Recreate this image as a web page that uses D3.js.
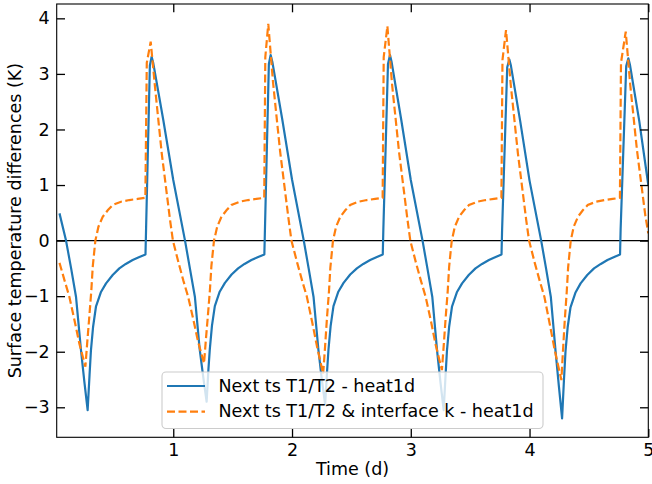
<!DOCTYPE html>
<html>
<head>
<meta charset="utf-8">
<script src="https://cdn.jsdelivr.net/npm/d3@7"></script>
<style>
  body { margin: 0; background: #fff; }
  text { font-family: "DejaVu Sans", sans-serif; }
</style>
</head>
<body>
<script>
//Data (time in days, difference in K)
const xTicks = [1, 2, 3, 4, 5];
const yTicks = [-3, -2, -1, 0, 1, 2, 3, 4];
const seriesNames = ["Next ts T1/T2 - heat1d", "Next ts T1/T2 & interface k - heat1d"];

const nextTs = [
  [0.042,0.49],[0.097,0.0],[0.140,-0.50],[0.181,-1.01],[0.223,-1.97],[0.252,-2.55],[0.279,-3.05],[0.295,-2.42],[0.307,-1.97],[0.325,-1.55],[0.349,-1.19],[0.390,-0.93],[0.434,-0.77],[0.490,-0.62],[0.546,-0.50],[0.600,-0.42],[0.658,-0.35],[0.710,-0.30],[0.766,-0.25],[0.771,0.20],[0.803,3.15],[0.818,3.31],[0.832,3.19],[0.916,2.17],[1.000,1.09],
  [1.099,0.0],[1.140,-0.50],[1.182,-1.01],[1.222,-1.95],[1.252,-2.45],[1.281,-2.90],[1.296,-2.32],[1.308,-1.95],[1.326,-1.53],[1.350,-1.18],[1.391,-0.92],[1.435,-0.76],[1.491,-0.61],[1.546,-0.50],[1.600,-0.42],[1.658,-0.35],[1.710,-0.30],[1.767,-0.25],[1.772,0.20],[1.805,3.18],[1.820,3.34],[1.834,3.22],[1.918,2.18],[2.000,1.10],
  [2.099,0.0],[2.140,-0.50],[2.181,-1.01],[2.222,-1.96],[2.251,-2.50],[2.279,-2.95],[2.295,-2.36],[2.307,-1.96],[2.325,-1.54],[2.349,-1.18],[2.390,-0.92],[2.434,-0.76],[2.490,-0.61],[2.546,-0.50],[2.600,-0.42],[2.658,-0.35],[2.710,-0.30],[2.764,-0.25],[2.769,0.20],[2.808,3.18],[2.825,3.34],[2.838,3.22],[2.920,2.17],[3.000,1.09],
  [3.099,0.0],[3.140,-0.50],[3.181,-1.01],[3.221,-1.97],[3.250,-2.55],[3.277,-3.05],[3.293,-2.42],[3.305,-1.97],[3.323,-1.55],[3.347,-1.19],[3.388,-0.93],[3.432,-0.77],[3.488,-0.62],[3.545,-0.50],[3.600,-0.42],[3.658,-0.35],[3.710,-0.30],[3.764,-0.25],[3.769,0.20],[3.812,3.12],[3.830,3.26],[3.843,3.15],[3.922,2.14],[4.000,1.08],
  [4.098,0.0],[4.139,-0.50],[4.179,-1.01],[4.219,-1.99],[4.247,-2.62],[4.274,-3.20],[4.290,-2.50],[4.303,-1.99],[4.321,-1.56],[4.345,-1.20],[4.386,-0.94],[4.430,-0.77],[4.486,-0.62],[4.543,-0.50],[4.600,-0.42],[4.656,-0.35],[4.708,-0.30],[4.762,-0.25],[4.767,0.20],[4.814,3.14],[4.832,3.28],[4.845,3.17],[4.924,2.15],[5.000,1.00]
];

const nextTsK = [
  [0.042,-0.40],[0.085,-0.72],[0.125,-1.01],[0.170,-1.45],[0.209,-1.85],[0.260,-2.27],[0.275,-1.85],[0.293,-1.37],[0.310,-0.90],[0.322,-0.47],[0.344,0.0],[0.370,0.25],[0.406,0.43],[0.450,0.55],[0.490,0.64],[0.560,0.70],[0.630,0.73],[0.700,0.75],[0.765,0.77],[0.777,3.20],[0.810,3.58],[0.846,2.77],[0.903,1.57],[0.973,0.37],[0.997,0.0],[1.046,-0.41],
  [1.085,-0.72],[1.125,-1.01],[1.170,-1.43],[1.209,-1.82],[1.259,-2.21],[1.274,-1.80],[1.292,-1.34],[1.309,-0.88],[1.321,-0.46],[1.343,0.0],[1.370,0.25],[1.406,0.43],[1.450,0.55],[1.490,0.64],[1.560,0.70],[1.630,0.73],[1.700,0.75],[1.766,0.77],[1.775,3.30],[1.800,3.90],[1.840,2.85],[1.900,1.60],[1.970,0.40],[1.995,0.0],[2.045,-0.41],
  [2.085,-0.72],[2.125,-1.01],[2.170,-1.47],[2.210,-1.90],[2.262,-2.40],[2.277,-1.95],[2.294,-1.40],[2.311,-0.92],[2.323,-0.48],[2.345,0.0],[2.371,0.25],[2.407,0.43],[2.450,0.55],[2.490,0.64],[2.560,0.70],[2.630,0.73],[2.700,0.75],[2.763,0.77],[2.772,3.30],[2.803,3.86],[2.842,2.82],[2.902,1.58],[2.972,0.38],[2.996,0.0],[3.045,-0.41],
  [3.085,-0.72],[3.125,-1.01],[3.170,-1.45],[3.209,-1.87],[3.262,-2.33],[3.277,-1.90],[3.294,-1.38],[3.311,-0.91],[3.323,-0.47],[3.345,0.0],[3.371,0.25],[3.407,0.43],[3.450,0.55],[3.490,0.64],[3.560,0.70],[3.630,0.73],[3.700,0.75],[3.763,0.77],[3.772,3.25],[3.802,3.79],[3.842,2.80],[3.902,1.57],[3.972,0.37],[3.996,0.0],[4.045,-0.41],
  [4.085,-0.72],[4.125,-1.01],[4.170,-1.50],[4.212,-1.97],[4.268,-2.51],[4.281,-2.00],[4.297,-1.42],[4.313,-0.93],[4.325,-0.48],[4.347,0.0],[4.372,0.25],[4.408,0.43],[4.450,0.55],[4.490,0.64],[4.560,0.70],[4.630,0.73],[4.700,0.75],[4.761,0.77],[4.770,3.20],[4.810,3.76],[4.848,2.80],[4.905,1.62],[4.975,0.45],[5.000,0.13]
];

//Set up dimensions
const width = 652, height = 484;
const plotLeft = 56.7, plotRight = 648.3, plotTop = 4, plotBottom = 437.3;
const fontSize = 17.5;

//Set up scales
const xScale = d3.scaleLinear().domain([0.0185, 5]).range([plotLeft, plotRight]);
const yScale = d3.scaleLinear().domain([-3.54, 4.258]).range([plotBottom, plotTop]);

//Make the SVG
const svg = d3.select("body").append("svg")
  .attr("width", width)
  .attr("height", height);

svg.append("clipPath").attr("id", "clip")
  .append("rect")
  .attr("x", plotLeft).attr("y", plotTop)
  .attr("width", plotRight - plotLeft).attr("height", plotBottom - plotTop);

const plot = svg.append("g").attr("clip-path", "url(#clip)");

//Zero line
plot.append("line")
  .attr("x1", plotLeft).attr("x2", plotRight)
  .attr("y1", yScale(0)).attr("y2", yScale(0))
  .attr("stroke", "#000")
  .attr("stroke-width", 1.4);

//Draw lines
const line = d3.line()
  .x(d => xScale(d[0]))
  .y(d => yScale(d[1]));

plot.append("path")
  .datum(nextTs)
  .attr("d", line)
  .attr("fill", "none")
  .attr("stroke", "#1f77b4")
  .attr("stroke-width", 2.2)
  .attr("stroke-linejoin", "round");

plot.append("path")
  .datum(nextTsK)
  .attr("d", line)
  .attr("fill", "none")
  .attr("stroke", "#ff7f0e")
  .attr("stroke-width", 2.2)
  .attr("stroke-dasharray", "8,3.5");

//Axes (ticks pointing inward, on all four sides)
const tickLen = 8.3;
const fmt = d => d < 0 ? "\u2212" + Math.abs(d) : "" + d;

const bottomAxis = d3.axisBottom(xScale).tickValues(xTicks)
  .tickSizeInner(-tickLen).tickSizeOuter(0).tickPadding(6).tickFormat(fmt);
const topAxis = d3.axisTop(xScale).tickValues(xTicks)
  .tickSizeInner(-tickLen).tickSizeOuter(0).tickFormat("");
const leftAxis = d3.axisLeft(yScale).tickValues(yTicks)
  .tickSizeInner(-tickLen).tickSizeOuter(0).tickPadding(7).tickFormat(fmt);
const rightAxis = d3.axisRight(yScale).tickValues(yTicks)
  .tickSizeInner(-tickLen).tickSizeOuter(0).tickFormat("");

function styleAxis(g) {
  g.select(".domain").remove();
  g.selectAll(".tick line").attr("stroke", "#000").attr("stroke-width", 1.3);
  g.selectAll(".tick text")
    .attr("fill", "#000")
    .style("font-size", fontSize + "px")
    .style("font-family", "DejaVu Sans");
}

svg.append("g").attr("transform", "translate(0," + plotBottom + ")").call(bottomAxis).call(styleAxis);
svg.append("g").attr("transform", "translate(0," + plotTop + ")").call(topAxis).call(styleAxis);
svg.append("g").attr("transform", "translate(" + plotLeft + ",0)").call(leftAxis).call(styleAxis);
svg.append("g").attr("transform", "translate(" + plotRight + ",0)").call(rightAxis).call(styleAxis);

//Frame
svg.append("rect")
  .attr("x", plotLeft).attr("y", plotTop)
  .attr("width", plotRight - plotLeft).attr("height", plotBottom - plotTop)
  .attr("fill", "none")
  .attr("stroke", "#000")
  .attr("stroke-width", 1.1);

//Axis labels
svg.append("text")
  .attr("x", (plotLeft + plotRight) / 2)
  .attr("y", 475)
  .attr("text-anchor", "middle")
  .style("font-size", fontSize + "px")
  .text("Time (d)");

svg.append("text")
  .attr("transform", "translate(20.5," + (plotTop + plotBottom) / 2 + ") rotate(-90)")
  .attr("text-anchor", "middle")
  .style("font-size", fontSize + "px")
  .text("Surface temperature differences (K)");

//Legend
const legend = svg.append("g");
legend.append("rect")
  .attr("x", 162).attr("y", 372)
  .attr("width", 381).attr("height", 56.5)
  .attr("rx", 4)
  .attr("fill", "#fff").attr("fill-opacity", 0.8)
  .attr("stroke", "#cccccc").attr("stroke-width", 1.1);

const legendItems = [
  {name: seriesNames[0], color: "#1f77b4", dash: null},
  {name: seriesNames[1], color: "#ff7f0e", dash: "8,3.5"}
];

legendItems.forEach((item, i) => {
  legend.append("line")
    .attr("x1", 167).attr("x2", 205)
    .attr("y1", 386 + i * 25.7).attr("y2", 386 + i * 25.7)
    .attr("stroke", item.color)
    .attr("stroke-width", 2.2)
    .attr("stroke-dasharray", item.dash);
  legend.append("text")
    .attr("x", 218.5).attr("y", 392.3 + i * 25)
    .style("font-size", fontSize + "px")
    .text(item.name);
});
</script>
</body>
</html>
